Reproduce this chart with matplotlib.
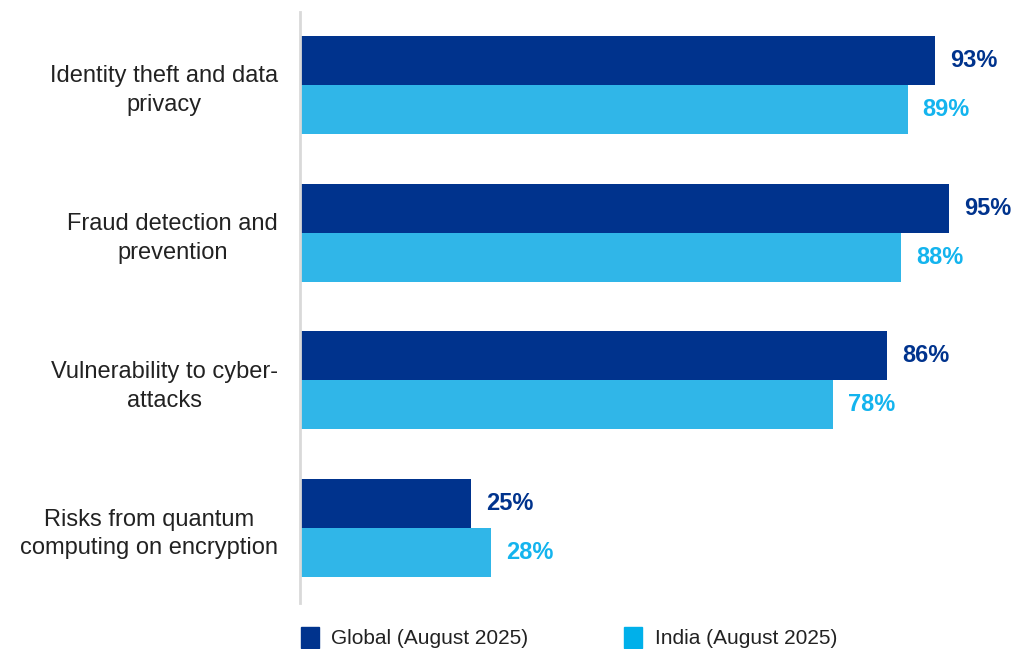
import matplotlib.pyplot as plt
import numpy as np
from matplotlib.patches import Patch

plt.rcParams['font.family'] = ['Liberation Sans', 'DejaVu Sans']

categories = ["Identity theft and data\nprivacy",
              "Fraud detection and\nprevention",
              "Vulnerability to cyber-\nattacks",
              "Risks from quantum\ncomputing on encryption"]
global_vals = [93, 95, 86, 25]
india_vals = [89, 88, 78, 28]
series_names = ["Global (August 2025)", "India (August 2025)"]

DARK = "#00338D"
LIGHT = "#30B6E8"
LIGHT_TXT = "#14B4EE"
LIGHT_LEG = "#00B0EA"

fig = plt.figure(figsize=(10.16, 6.49), dpi=100)
ax = fig.add_axes([0.2953, 0.0709, 0.672, 0.9106])

y = np.arange(len(categories))
h = 0.332
ax.barh(y - h/2, global_vals, height=h, color=DARK)
ax.barh(y + h/2, india_vals, height=h, color=LIGHT)

for yi, v in zip(y, global_vals):
    ax.text(v + 2.2, yi - h/2, f"{v}%", va="center", ha="left",
            fontsize=17, fontweight="bold", color=DARK)
for yi, v in zip(y, india_vals):
    ax.text(v + 2.2, yi + h/2, f"{v}%", va="center", ha="left",
            fontsize=17, fontweight="bold", color=LIGHT_TXT)

ax.set_xlim(0, 100)
ax.set_ylim(3.507, -0.494)
ax.set_yticks(y)
ax.set_yticklabels(categories, fontsize=17, color="#222222", ha="right",
                   multialignment="center", linespacing=1.4)
ax.tick_params(axis="y", length=0, pad=16)
ax.set_xticks([])
for s in ["top", "right", "bottom"]:
    ax.spines[s].set_visible(False)
ax.spines["left"].set_color("#D9D9D9")
ax.spines["left"].set_linewidth(2)

handles = [Patch(color=DARK), Patch(color=LIGHT_LEG)]
fig.legend(handles, series_names, loc="lower left", bbox_to_anchor=(0.278, -0.028),
           ncol=2, frameon=False, fontsize=15, handlelength=0.85, handleheight=1.2,
           handletextpad=0.6, columnspacing=4.6, labelcolor="#222222")

plt.savefig("out.png", dpi=100)
